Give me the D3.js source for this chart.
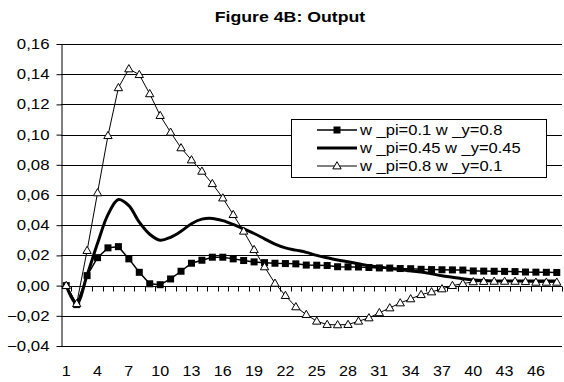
<!DOCTYPE html>
<html>
<head>
  <meta charset="UTF-8">
  <title>Figure 4B</title>
  <style>
    body { margin: 0; background: #fff; }
    text { font-family: Arial, "Liberation Sans", sans-serif; fill: #000; }
  </style>
</head>
<body>
  <div id="chart"></div>
  <script src="https://d3js.org/d3.v7.min.js"></script>
  <script>
    const periods = [1,2,3,4,5,6,7,8,9,10,11,12,13,14,15,16,17,18,19,20,21,22,23,24,
      25,26,27,28,29,30,31,32,33,34,35,36,37,38,39,40,41,42,43,44,45,46,47,48];
    const tickLabels = [1,4,7,10,13,16,19,22,25,28,31,34,37,40,43,46];
    const yTicks = [-0.04,-0.02,0,0.02,0.04,0.06,0.08,0.10,0.12,0.14,0.16];

    const names = ["w _pi=0.1 w _y=0.8", "w _pi=0.45 w _y=0.45", "w _pi=0.8 w _y=0.1"];

    const low = [0,-0.0126,0.0066,0.0185,0.025,0.0258,0.0177,0.0088,0.0012,0.0006,0.0044,0.0095,
      0.0148,0.0168,0.0188,0.0188,0.0177,0.0166,0.0157,0.0152,0.0148,0.0146,0.0144,0.0136,
      0.0135,0.0133,0.0125,0.0124,0.0123,0.012,0.0117,0.0116,0.0113,0.0112,0.0108,0.0106,
      0.0105,0.0104,0.0103,0.0097,0.0096,0.0095,0.0094,0.0093,0.009,0.0089,0.0088,0.0087];
    const mid = [0,-0.012,0.007,0.028,0.047,0.057,0.053,0.042,0.034,0.030,0.032,0.036,
      0.041,0.044,0.0445,0.043,0.0405,0.0375,0.0345,0.031,0.0275,0.025,0.0235,0.022,
      0.020,0.0185,0.017,0.0158,0.0145,0.0132,0.0123,0.0115,0.0106,0.0098,0.009,0.0078,
      0.0065,0.0055,0.0045,0.0037,0.0033,0.0031,0.003,0.003,0.003,0.003,0.003,0.003];
    const high = [0,-0.012,0.0232,0.0614,0.0993,0.131,0.1435,0.1397,0.127,0.1126,0.1015,0.0912,
      0.0832,0.0757,0.0675,0.058,0.047,0.036,0.0238,0.0124,0.0015,-0.0066,-0.0141,-0.0192,
      -0.0236,-0.0258,-0.026,-0.0258,-0.0236,-0.0214,-0.018,-0.0148,-0.0115,-0.0088,-0.006,-0.0042,
      -0.0022,0,0.0013,0.0025,0.0027,0.0028,0.0028,0.0028,0.0026,0.0022,0.0022,0.0022];

    const width = 564;
    const height = 382;
    const plotL = 61, plotR = 562, plotT = 44, plotB = 346;

    const svg = d3.select("#chart")
      .append("svg")
      .attr("width", width)
      .attr("height", height);

    // the original picture is a bit wider than tall, so stretch the glyphs sideways
    function stretch(sel, k) {
      sel.each(function() {
        const w = this.getComputedTextLength();
        d3.select(this).attr("textLength", w * k).attr("lengthAdjust", "spacingAndGlyphs");
      });
    }

    const x = d3.scaleBand().domain(periods).range([plotL, plotR]);
    const y = d3.scaleLinear().domain([-0.04, 0.16]).range([plotB, plotT]);
    const cx = d => x(d) + x.bandwidth() / 2;
    const fmt = v => d3.format(".2f")(v).replace(".", ",");

    const title = svg.append("text")
      .attr("x", 290).attr("y", 22)
      .attr("text-anchor", "middle")
      .attr("font-size", "15px")
      .attr("font-weight", "bold")
      .text("Figure 4B: Output");
    stretch(title, 1.18);

    // gridlines + y axis
    svg.append("g").selectAll("line")
      .data(yTicks.filter(t => t !== 0))
      .enter().append("line")
      .attr("x1", plotL).attr("x2", plotR)
      .attr("y1", d => Math.round(y(d)) + 0.5).attr("y2", d => Math.round(y(d)) + 0.5)
      .attr("stroke", "#000").attr("stroke-width", 1);

    const yAxis = d3.axisLeft(y).tickValues(yTicks).tickSize(5).tickSizeOuter(0).tickFormat(fmt);
    const ya = svg.append("g").attr("transform", "translate(" + (plotL + 0.5) + ",0)").call(yAxis);
    ya.select(".domain").attr("stroke", "#000");
    ya.selectAll(".tick line").attr("stroke", "#000");
    ya.selectAll("text").attr("font-size", "14px").attr("x", -12)
      .style("font-family", "Arial, 'Liberation Sans', sans-serif");
    stretch(ya.selectAll("text"), 1.2);

    // x axis at zero
    const y0 = Math.round(y(0)) + 0.5;
    svg.append("line").attr("x1", plotL).attr("x2", plotR).attr("y1", y0).attr("y2", y0)
      .attr("stroke", "#000");
    svg.append("g").selectAll("line")
      .data(periods)
      .enter().append("line")
      .attr("x1", d => Math.round(x(d) + x.bandwidth()) + 0.5)
      .attr("x2", d => Math.round(x(d) + x.bandwidth()) + 0.5)
      .attr("y1", y0).attr("y2", y0 + 5)
      .attr("stroke", "#000");

    const xl = svg.append("g").selectAll("text")
      .data(tickLabels)
      .enter().append("text")
      .attr("x", d => cx(d)).attr("y", 376)
      .attr("text-anchor", "middle")
      .attr("font-size", "14px")
      .text(d => d);
    stretch(xl, 1.15);

    // series
    const line = d3.line().x((d, i) => cx(periods[i])).y(d => y(d));
    svg.append("path").datum(low).attr("d", line)
      .attr("fill", "none").attr("stroke", "#000").attr("stroke-width", 1.5);
    svg.append("g").selectAll("rect")
      .data(low).enter().append("rect")
      .attr("x", (d, i) => cx(periods[i]) - 3.5).attr("y", d => y(d) - 3.5)
      .attr("width", 7).attr("height", 7).attr("fill", "#000");

    svg.append("path").datum(mid)
      .attr("d", line.curve(d3.curveCatmullRom.alpha(0.5)))
      .attr("fill", "none").attr("stroke", "#000").attr("stroke-width", 3);
    line.curve(d3.curveLinear);

    svg.append("path").datum(high).attr("d", line)
      .attr("fill", "none").attr("stroke", "#000").attr("stroke-width", 1);
    const tri = d3.symbol().type(d3.symbolTriangle).size(30);
    svg.append("g").selectAll("path")
      .data(high).enter().append("path")
      .attr("d", tri)
      .attr("transform", (d, i) => "translate(" + cx(periods[i]) + "," + (y(d) + 0.5) + ")")
      .attr("fill", "#fff").attr("stroke", "#000").attr("stroke-width", 1);

    // legend
    const lg = svg.append("g");
    lg.append("rect").attr("x", 291.5).attr("y", 119.5).attr("width", 255).attr("height", 58)
      .attr("fill", "#fff").attr("stroke", "#000");
    const rows = [130, 148, 166];
    names.forEach((n, i) => {
      const sw = [1.5, 3, 1][i];
      lg.append("line").attr("x1", 317).attr("x2", 357).attr("y1", rows[i]).attr("y2", rows[i])
        .attr("stroke", "#000").attr("stroke-width", sw);
      if (i === 0) {
        lg.append("rect").attr("x", 333.5).attr("y", rows[i] - 3.5).attr("width", 7).attr("height", 7);
      } else if (i === 2) {
        lg.append("path").attr("d", tri).attr("transform", "translate(337," + (rows[i] + 0.5) + ")")
          .attr("fill", "#fff").attr("stroke", "#000");
      }
      const t = lg.append("text").attr("x", 360).attr("y", rows[i] + 5)
        .attr("font-size", "14px").text(n);
      stretch(t, 1.18);
    });
  </script>
</body>
</html>
